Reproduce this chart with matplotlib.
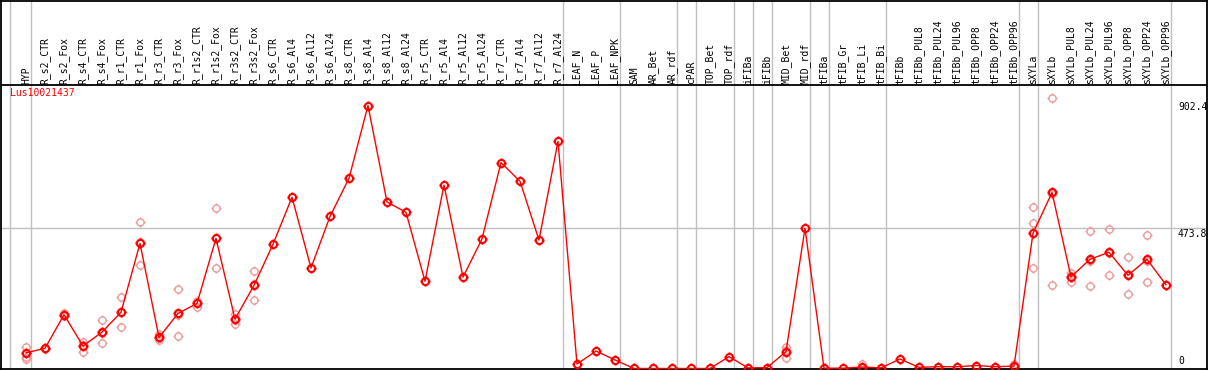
import matplotlib
matplotlib.use("Agg")
import matplotlib.pyplot as plt
import numpy as np
from matplotlib.path import Path

gene = "Lus10021437"

samples = [
    "HYP", "R_s2_CTR", "R_s2_Fox", "R_s4_CTR", "R_s4_Fox", "R_r1_CTR", "R_r1_Fox",
    "R_r3_CTR", "R_r3_Fox", "R_r1s2_CTR", "R_r1s2_Fox", "R_r3s2_CTR", "R_r3s2_Fox",
    "R_s6_CTR", "R_s6_Al4", "R_s6_Al12", "R_s6_Al24", "R_s8_CTR", "R_s8_Al4",
    "R_s8_Al12", "R_s8_Al24", "R_r5_CTR", "R_r5_Al4", "R_r5_Al12", "R_r5_Al24",
    "R_r7_CTR", "R_r7_Al4", "R_r7_Al12", "R_r7_Al24", "LEAF_N", "LEAF_P", "LEAF_NPK",
    "SAM", "AR_Bet", "AR_rdf", "cPAR", "TOP_Bet", "TOP_rdf", "iFIBa", "iFIBb",
    "MID_Bet", "MID_rdf", "tFIBa", "tFIB_Gr", "tFIB_Li", "tFIB_Bi", "tFIBb",
    "tFIBb_PUL8", "tFIBb_PUL24", "tFIBb_PUL96", "tFIBb_OPP8", "tFIBb_OPP24",
    "tFIBb_OPP96", "sXYLa", "sXYLb", "sXYLb_PUL8", "sXYLb_PUL24", "sXYLb_PUL96",
    "sXYLb_OPP8", "sXYLb_OPP24", "sXYLb_OPP96",
]

mean_expr = [
    53, 68, 182, 76, 123, 190, 423, 105, 186, 220, 440, 167, 281,
    420, 579, 340, 514, 643, 889, 563, 528, 295, 620, 309, 438,
    696, 633, 434, 768, 15, 59, 29,
    0, 0, 0, 0, 0, 40, 2, 3,
    57, 474, 1, 1, 5, 2, 32,
    4, 6, 6, 10, 6, 8,
    457, 595, 310, 369, 393, 315, 369, 283,
]

replicates = [
    [74, 40, 32], [70, 66], [186, 182, 178], [91, 57, 80], [163, 85, 121],
    [242, 139, 190], [494, 349, 426], [118, 95, 102], [268, 109, 181],
    [228, 209, 223], [541, 339, 440], [185, 151, 165], [328, 230, 285],
    [], [], [], [], [], [], [], [], [], [], [], [], [], [], [], [],
    [], [], [],
    [], [], [], [], [], [], [], [],
    [72, 37, 62], [], [], [], [14, 1], [], [],
    [], [], [], [], [], [14, 4],
    [545, 491, 339], [913, 281, 591], [324, 293, 312], [464, 279, 364],
    [471, 316, 392], [376, 251, 318], [451, 292, 364], [283, 283],
]

# gray separators, in column units
separators = [-0.83, 0.24, 28.24, 31.24, 34.24, 35.24, 37.24, 38.24, 39.24,
              41.24, 42.24, 45.24, 52.24, 53.24, 60.24]

axis_values = [902.4, 473.8, 0]
axis_labels = ["902.4", "473.8", "0"]


def ring_marker():
    circle = Path.unit_circle()
    stubs = Path(
        [(0, 1), (0, 1.4), (0, -1), (0, -1.4), (1, 0), (1.4, 0), (-1, 0), (-1.4, 0)],
        [Path.MOVETO, Path.LINETO] * 4,
    )
    return Path.make_compound_path(circle, stubs)


plt.rcParams["font.family"] = "DejaVu Sans Mono"
W, H = 1209, 370
fig = plt.figure(figsize=(W / 100, H / 100), dpi=100)
ax = fig.add_axes([1 / W, 1 / H, 1206 / W, 368.5 / H])
ax.set_xlim(-25 / 19, -25 / 19 + 1206 / 19)
ax.set_ylim(-1.7, 1244)
ax.set_xticks([])
ax.set_yticks([])
for sp in ax.spines.values():
    sp.set_linewidth(1.3)

header_y = 958
ax.axhline(header_y, color="black", lw=1.3, zorder=3)
ax.axhline(473.8, color="#c0c0c0", lw=1.0, zorder=1)
for s in separators:
    ax.axvline(s, color="#c0c0c0", lw=1.0, zorder=1)

x = np.arange(len(samples))
for i, name in enumerate(samples):
    ax.text(i, 963, name, rotation=90, ha="center", va="bottom", fontsize=7)

marker = ring_marker()
rx, ry = [], []
for i, reps in enumerate(replicates):
    for v in reps:
        rx.append(i)
        ry.append(v)
ax.plot(rx, ry, ls="none", marker=marker, ms=7.2, mec="#ec9a9a", mfc="none",
        mew=1.0, zorder=2)
ax.plot(x, mean_expr, color="red", lw=1.0, marker=marker, ms=7.2, mec="red",
        mfc="none", mew=1.5, zorder=4)

ax.text(-0.84, 931, gene, color="red", fontsize=7, ha="left", va="center")
for v, lab in zip(axis_values, axis_labels):
    ax.text(60.63, v + (8 if v == 0 else -3), lab, fontsize=7, ha="left",
            va="bottom" if v == 0 else "top")

fig.savefig("out.png", dpi=100)
